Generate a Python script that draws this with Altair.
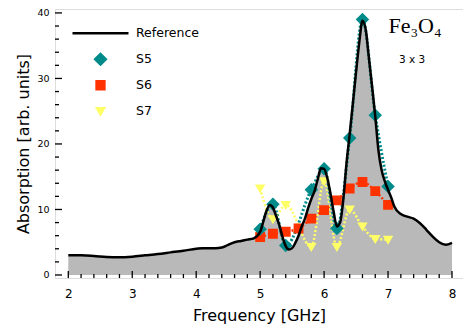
import altair as alt
import pandas as pd

# ---- data ----
ref_freq = [2.0, 2.2, 2.4, 2.6, 2.8, 3.0, 3.2, 3.4, 3.6, 3.8,
            4.0, 4.1, 4.2, 4.3, 4.4, 4.5, 4.6, 4.7, 4.8, 4.9, 5.0,
            5.05, 5.1, 5.15, 5.2, 5.25, 5.3, 5.35, 5.4, 5.45, 5.5, 5.55, 5.6, 5.65, 5.7,
            5.75, 5.8, 5.85, 5.9, 5.95, 6.0, 6.05, 6.1, 6.15, 6.2, 6.25, 6.3, 6.35, 6.4,
            6.45, 6.5, 6.55, 6.6, 6.65, 6.7, 6.75, 6.8, 6.85, 6.9, 6.95, 7.0, 7.05, 7.1,
            7.2, 7.3, 7.4, 7.5, 7.6, 7.7, 7.8, 7.9, 8.0]
ref_abs = [3.0, 3.0, 2.9, 2.75, 2.7, 2.8, 3.0, 3.2, 3.45, 3.7,
           4.0, 4.1, 4.1, 4.1, 4.2, 4.6, 5.0, 5.2, 5.4, 5.6, 6.6,
           8.2, 9.8, 10.7, 10.3, 9.0, 7.6, 5.8, 4.4, 3.9, 4.1, 4.9, 6.0, 7.4, 8.6,
           10.2, 11.6, 12.8, 14.6, 16.3, 16.2, 14.8, 12.4, 9.6, 7.4, 8.0, 11.5, 17.0, 21.5,
           26.2, 31.0, 35.5, 38.8, 37.5, 33.2, 28.8, 24.2, 19.0, 16.0, 14.3, 13.0, 11.8, 10.4,
           9.3, 8.9, 8.6, 7.9, 6.9, 5.85, 5.0, 4.6, 4.9]

s5_freq = [5.0, 5.2, 5.4, 5.8, 6.0, 6.2, 6.4, 6.6, 6.8, 7.0]
s5_abs = [7.0, 10.8, 4.5, 13.0, 16.2, 7.1, 20.9, 39.0, 24.4, 13.5]

s6_freq = [5.0, 5.2, 5.4, 5.6, 5.8, 6.0, 6.2, 6.4, 6.6, 6.8, 7.0]
s6_abs = [5.8, 6.3, 6.6, 7.1, 8.6, 9.9, 11.4, 13.2, 14.2, 12.8, 10.7]

s7_freq = [5.0, 5.2, 5.4, 5.8, 6.0, 6.2, 6.4, 6.6, 6.8, 7.0]
s7_abs = [13.2, 8.5, 10.7, 4.3, 14.3, 4.3, 10.0, 7.4, 5.5, 5.4]

series_names = ["Reference", "S5", "S6", "S7"]
series_colors = ["#000000", "#008b8b", "#ff3300", "#ffff66"]
# symbol outlines in the unit square (scaled by the common symbol size)
series_shapes = [
    "M-1,0L1,0",
    "M-0.19,0L0,-0.19L0.19,0L0,0.19Z",
    "M-0.14,-0.14L0.14,-0.14L0.14,0.14L-0.14,0.14Z",
    "M-0.125,-0.105L0.125,-0.105L0,0.11Z",
]

x_major = [2, 3, 4, 5, 6, 7, 8]
x_minor = [round(2 + 0.2 * i, 1) for i in range(31) if i % 5 != 0]
y_major = [0, 10, 20, 30, 40]
y_minor = [v for v in range(0, 41, 2) if v % 10 != 0]

title_text = "Fe₃O₄"
sub_text = "3 x 3"

# ---- tables ----
ref_df = pd.DataFrame({"f": ref_freq, "a": ref_abs})
pts_df = pd.concat([
    pd.DataFrame({"f": s6_freq, "a": s6_abs, "series": "S6"}),
    pd.DataFrame({"f": s7_freq, "a": s7_abs, "series": "S7"}),
    pd.DataFrame({"f": s5_freq, "a": s5_abs, "series": "S5"}),
], ignore_index=True)

W, H = 408, 269
SYM = 3136
xs = alt.Scale(domain=[1.792, 8.172], nice=False, zero=False)
ys = alt.Scale(domain=[-0.46, 40.6], nice=False, zero=False)
FONT = "DejaVu Sans"

xaxis = alt.Axis(values=x_major, format="d", ticks=False, domain=False, grid=False,
                 labelFontSize=12, labelFont=FONT, labelPadding=10, labelColor="#000",
                 title="Frequency [GHz]", titleFontSize=16, titleFont=FONT,
                 titleFontWeight="normal", titlePadding=8, titleColor="#000")
yaxis = alt.Axis(values=y_major, format="d", ticks=False, domain=False, grid=False,
                 labelFontSize=9.5, labelFont=FONT, labelPadding=6, labelColor="#000",
                 title="Absorption [arb. units]", titleFontSize=16, titleFont=FONT,
                 titleFontWeight="normal", titlePadding=5, titleColor="#000")

area = alt.Chart(ref_df).mark_area(color="#b9b9b9", interpolate="monotone").encode(
    x=alt.X("f:Q", scale=xs, axis=xaxis),
    y=alt.Y("a:Q", scale=ys, axis=yaxis),
    y2=alt.datum(0),
)

def dotted(name, color, width):
    return alt.Chart(pts_df).transform_filter(alt.datum.series == name).mark_line(
        color=color, strokeDash=[2, 2], strokeWidth=width, interpolate="monotone"
    ).encode(x=alt.X("f:Q", scale=xs), y=alt.Y("a:Q", scale=ys))

leg = alt.Legend(
    title=None, orient="none", legendX=16, legendY=11.5, padding=0,
    symbolSize=SYM, symbolStrokeWidth=2.5, symbolOffset=0, labelOffset=6,
    labelFontSize=12.5, labelFont=FONT, labelColor="#000", clipHeight=25.5, rowPadding=0,
    symbolOpacity=1,
)

points = alt.Chart(pts_df).mark_point(filled=True, opacity=1, strokeWidth=2, size=SYM).encode(
    x=alt.X("f:Q", scale=xs),
    y=alt.Y("a:Q", scale=ys),
    fill=alt.Fill("series:N", scale=alt.Scale(domain=series_names, range=series_colors), legend=leg),
    stroke=alt.Stroke("series:N", scale=alt.Scale(domain=series_names, range=series_colors), legend=leg),
    shape=alt.Shape("series:N", scale=alt.Scale(domain=series_names, range=series_shapes), legend=leg),
)

line = alt.Chart(ref_df).mark_line(color="#000", strokeWidth=2.5, interpolate="monotone").encode(
    x=alt.X("f:Q", scale=xs), y=alt.Y("a:Q", scale=ys)
)

def xticks(vals, length):
    return alt.Chart(pd.DataFrame({"t": vals})).mark_rule(color="#000", strokeWidth=1.3).encode(
        x=alt.X("t:Q", scale=xs), y=alt.value(H), y2=alt.value(H - length))

def yticks(vals, length):
    return alt.Chart(pd.DataFrame({"t": vals})).mark_rule(color="#000", strokeWidth=1.3).encode(
        y=alt.Y("t:Q", scale=ys), x=alt.value(0), x2=alt.value(length))

txt_df = pd.DataFrame({"t": [title_text]})
title_mark = alt.Chart(txt_df).mark_text(font="Liberation Serif", fontSize=22, align="center",
                                         baseline="alphabetic", color="#000").encode(
    x=alt.value(360), y=alt.value(24), text="t:N")
sub_df = pd.DataFrame({"t": [sub_text]})
sub_mark = alt.Chart(sub_df).mark_text(font=FONT, fontSize=10.5, align="center",
                                       baseline="alphabetic", color="#000").encode(
    x=alt.value(357), y=alt.value(54), text="t:N")

chart = alt.layer(
    area,
    dotted("S6", "#ff3300", 2.5),
    dotted("S7", "#ffff66", 2.5),
    dotted("S5", "#008b8b", 3),
    points,
    line,
    xticks(x_major, 7), xticks(x_minor, 4),
    yticks(y_major, 7), yticks(y_minor, 4),
    title_mark, sub_mark,
).properties(
    width=W, height=H,
    autosize=alt.AutoSizeParams(type="none"),
    padding={"left": 47, "top": 1, "right": 0, "bottom": 55},
).configure_view(stroke="#000", strokeWidth=2).configure(background="white")

chart.save("out.html", embed_options={"renderer": "svg", "actions": False})
